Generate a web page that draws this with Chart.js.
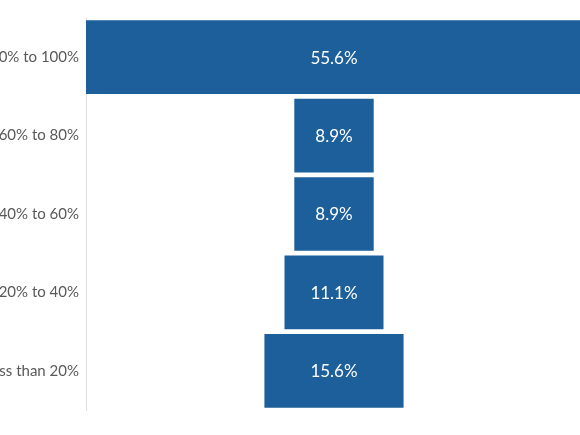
<!DOCTYPE html>
<html>
<head>
<meta charset="utf-8">
<script src="https://cdn.jsdelivr.net/npm/chart.js@4"></script>
<style>
  html, body { margin: 0; padding: 0; background: #fff; overflow: hidden; }
  #wrap { position: absolute; left: -40px; top: 0; width: 622px; height: 435px; }
</style>
</head>
<body>
<div id="wrap"><canvas id="funnel"></canvas></div>
<script>
// Share of respondents per band
const bands = ["80% to 100%", "60% to 80%", "40% to 60%", "20% to 40%", "Less than 20%"];
const shares = [55.6, 8.9, 8.9, 11.1, 15.6];
const halfRange = 27.8;

document.addEventListener("DOMContentLoaded", function () {
    // Write the value in the middle of each bar
    const barLabels = {
        id: "barLabels",
        afterDatasetsDraw(chart) {
            const ctx = chart.ctx;
            const meta = chart.getDatasetMeta(0);
            ctx.save();
            ctx.fillStyle = "#ffffff";
            ctx.font = "17px Lato";
            ctx.textAlign = "center";
            ctx.textBaseline = "middle";
            meta.data.forEach((bar, i) => {
                const cx = (bar.x + bar.base) / 2;
                ctx.fillText(shares[i].toFixed(1) + "%", cx, bar.y + 1);
            });
            ctx.restore();
        }
    };

    new Chart(document.getElementById("funnel").getContext("2d"), {
        type: "bar",
        data: {
            labels: bands,
            datasets: [{
                data: shares.map(v => [-v / 2, v / 2]),
                backgroundColor: "#1c5f9a",
                borderSkipped: false,
                barPercentage: 0.94,
                categoryPercentage: 1.0,
            }],
        },
        options: {
            indexAxis: "y",
            responsive: true,
            maintainAspectRatio: false,
            animation: false,
            layout: { padding: { top: 18, bottom: 25, left: 0, right: 0 } },
            plugins: {
                legend: { display: false },
                tooltip: { enabled: false },
            },
            scales: {
                x: {
                    display: false,
                    min: -halfRange,
                    max: halfRange,
                },
                y: {
                    grid: { display: false, drawTicks: false },
                    border: { display: true, color: "#dddddd", width: 1 },
                    ticks: {
                        color: "#595959",
                        font: { family: "Lato", size: 15 },
                        padding: 7,
                    },
                    afterFit(scale) { scale.width = 126; },
                },
            },
        },
        plugins: [barLabels],
    });
});
</script>
</body>
</html>
